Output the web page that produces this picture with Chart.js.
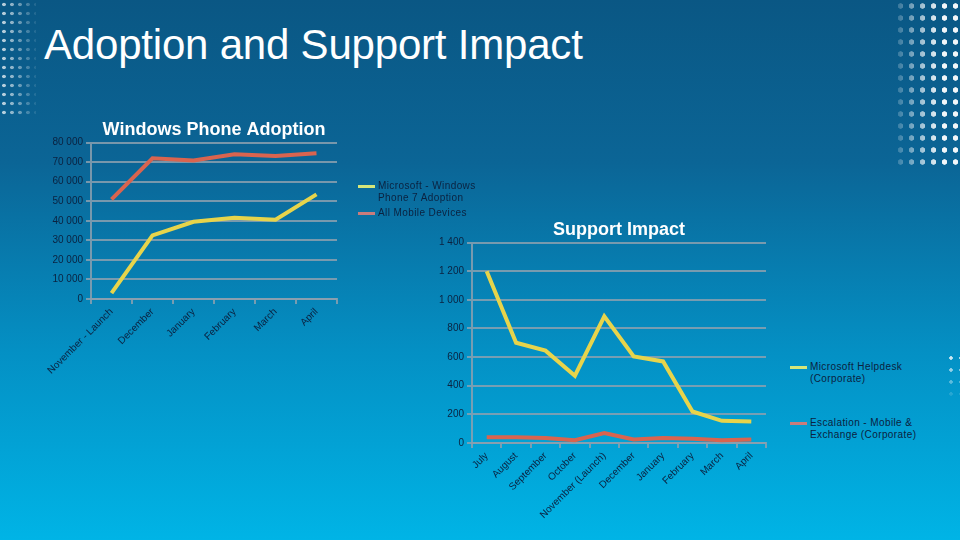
<!DOCTYPE html>
<html>
<head>
<meta charset="utf-8">
<script src="https://cdn.jsdelivr.net/npm/chart.js@4/dist/chart.umd.min.js"></script>
<style>
  html, body { margin: 0; padding: 0; }
  body {
    width: 960px; height: 540px; overflow: hidden; position: relative;
    background: linear-gradient(to bottom, #0a5784 0%, #0b6596 30%, #0490c4 65%, #00b4e6 100%);
    font-family: "Liberation Sans", Arial, sans-serif;
  }
  #title {
    position: absolute; left: 44px; top: 21px; color: #fff;
    font-size: 42px; font-family: "Liberation Sans", Arial, sans-serif; letter-spacing: -0.2px;
  }
  .chartbox { position: absolute; }
  .legend { position: absolute; font-size: 10px; color: #0b2240; line-height: 12px; letter-spacing: 0.4px; }
  .legend .item { position: absolute; white-space: nowrap; }
  .legend .swatch { position: absolute; width: 17px; height: 3px; }
  .legend .txt { position: absolute; left: 20px; }
  .dots { position: absolute; pointer-events: none; }
</style>
</head>
<body>
<div class="dots" style="left:0; top:0; width:36px; height:115px; background-size:8px 9px;
  background-image: radial-gradient(circle, rgba(255,255,255,0.9) 1.5px, transparent 2.1px);
  -webkit-mask-image: linear-gradient(to right, rgba(0,0,0,0.85), rgba(0,0,0,0.1)); mask-image: linear-gradient(to right, rgba(0,0,0,0.85), rgba(0,0,0,0.1));"></div>
<div class="dots" style="left:895px; top:0; width:65px; height:165px; background-size:11px 12px;
  background-image: radial-gradient(circle, rgba(255,255,255,0.95) 2.4px, transparent 3px);
  -webkit-mask-image: linear-gradient(to left, #000 30%, rgba(0,0,0,0.15)); mask-image: linear-gradient(to left, #000 30%, rgba(0,0,0,0.15));"></div>
<div class="dots" style="left:946px; top:352px; width:14px; height:50px; background-size:10px 12px;
  background-image: radial-gradient(circle, rgba(255,255,255,0.9) 1.5px, transparent 2px);
  -webkit-mask-image: linear-gradient(to bottom, #000, transparent); mask-image: linear-gradient(to bottom, #000, transparent);"></div>

<div id="title">Adoption and Support Impact</div>

<div class="chartbox" style="left:40px; top:112px; width:300px; height:280px;"><canvas id="c1" width="300" height="280"></canvas></div>
<div class="chartbox" style="left:420px; top:214px; width:350px; height:325px;"><canvas id="c2" width="350" height="325"></canvas></div>

<div class="legend" id="leg1" style="left:358px; top:180px;"></div>
<div class="legend" id="leg2" style="left:790px; top:361px;"></div>

<script>
// ---------- Data ----------
const adoptionCategories = ["November - Launch", "December", "January", "February", "March", "April"];
const wp7Adoption = [3000, 32500, 39500, 41500, 40500, 53500];
const allMobileDevices = [51000, 72000, 70800, 74000, 73200, 74500];
const adoptionSeriesNames = [["Microsoft - Windows", "Phone 7 Adoption"], ["All Mobile Devices"]];
const adoptionYTicks = [0, 10000, 20000, 30000, 40000, 50000, 60000, 70000, 80000];

const supportCategories = ["July", "August", "September", "October", "November (Launch)", "December", "January", "February", "March", "April"];
const helpdesk = [1200, 700, 645, 470, 885, 605, 570, 220, 155, 150];
const escalation = [40, 40, 35, 20, 70, 25, 35, 30, 20, 25];
const supportSeriesNames = [["Microsoft Helpdesk", "(Corporate)"], ["Escalation - Mobile &", "Exchange (Corporate)"]];
const supportYTicks = [0, 200, 400, 600, 800, 1000, 1200, 1400];

// ---------- Styles ----------
const YELLOW = "#e7d44b";
const RED = "#d9644f";
const LEG_YELLOW = "#d6e67a";
const LEG_RED = "#c97c7c";
const TEXT = "#0b2240";
const GRID = "rgba(140,160,175,0.85)";
const FONT = "'Liberation Sans', Arial, sans-serif";

function fmt(v) {
  return String(v).replace(/\B(?=(\d{3})+(?!\d))/g, " ");
}

function makeChart(id, cats, s1, s2, names, yTicks, yW, xH, pad, titleText, titlePad) {
  const yMax = yTicks[yTicks.length - 1];
  const step = yTicks[1] - yTicks[0];
  return new Chart(document.getElementById(id), {
    type: "line",
    data: {
      labels: cats,
      datasets: [
        { label: names[0].join(" "), data: s1, borderColor: YELLOW, backgroundColor: YELLOW, borderWidth: 4, pointRadius: 0, tension: 0 },
        { label: names[1].join(" "), data: s2, borderColor: RED, backgroundColor: RED, borderWidth: 4, pointRadius: 0, tension: 0 }
      ]
    },
    options: {
      responsive: false,
      animation: false,
      layout: { padding: pad },
      plugins: {
        legend: { display: false },
        tooltip: { enabled: false },
        title: {
          display: true, text: titleText, fullSize: false, color: "#ffffff",
          font: { family: FONT, size: 18, weight: "bold" },
          padding: titlePad
        }
      },
      scales: {
        x: {
          offset: true,
          grid: { display: true, offset: true, drawOnChartArea: false, drawTicks: true, tickLength: 5, color: GRID, lineWidth: 2 },
          border: { display: true, color: GRID, width: 2 },
          ticks: { color: TEXT, font: { family: FONT, size: 10 }, maxRotation: 45, minRotation: 45, autoSkip: false, padding: 2 },
          afterFit: s => { s.height = xH; }
        },
        y: {
          min: 0, max: yMax,
          grid: { color: GRID, lineWidth: 2, tickLength: 5 },
          border: { display: true, color: GRID, width: 2 },
          ticks: { stepSize: step, color: TEXT, font: { family: FONT, size: 10 }, padding: 3, callback: v => fmt(v) },
          afterFit: s => { s.width = yW; }
        }
      }
    }
  });
}

makeChart("c1", adoptionCategories, wp7Adoption, allMobileDevices, adoptionSeriesNames, adoptionYTicks,
  51, 93, { left: 0, right: 3, top: 0, bottom: 0 }, "Windows Phone Adoption", { top: 7, bottom: 2 });
makeChart("c2", supportCategories, helpdesk, escalation, supportSeriesNames, supportYTicks,
  52, 96, { left: 0, right: 4, top: 0, bottom: 0 }, "Support Impact", { top: 5, bottom: 2 });

// ---------- HTML legends ----------
function buildLegend(id, names, colors, gaps) {
  const el = document.getElementById(id);
  let y = 0;
  names.forEach((lines, i) => {
    const item = document.createElement("div");
    item.className = "item";
    item.style.top = y + "px";
    const sw = document.createElement("div");
    sw.className = "swatch";
    sw.style.background = colors[i];
    sw.style.top = "5px";
    const t = document.createElement("div");
    t.className = "txt";
    t.innerHTML = lines.join("<br>");
    item.appendChild(sw); item.appendChild(t);
    el.appendChild(item);
    y += gaps[i];
  });
}
buildLegend("leg1", adoptionSeriesNames, [LEG_YELLOW, LEG_RED], [27, 0]);
buildLegend("leg2", supportSeriesNames, [LEG_YELLOW, LEG_RED], [56, 0]);
</script>
</body>
</html>
